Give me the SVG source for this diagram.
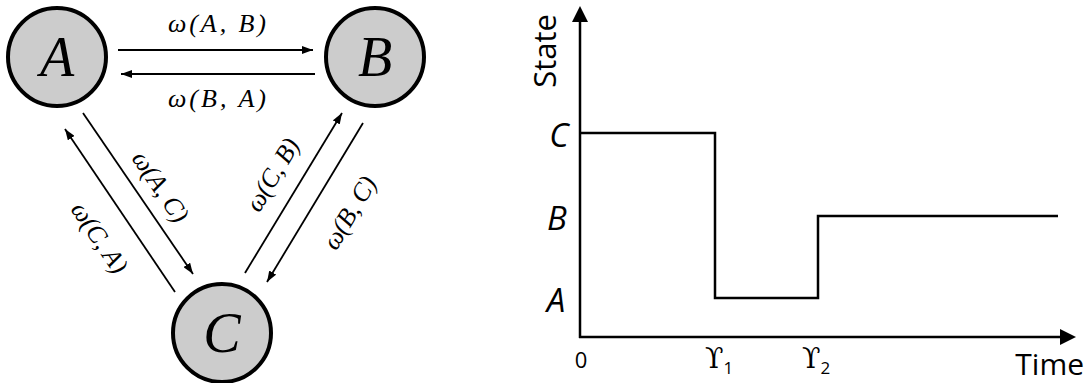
<svg xmlns="http://www.w3.org/2000/svg" width="1089" height="383" viewBox="0 0 1089 383">
<style>
.node{fill:#cccccc;stroke:#000;stroke-width:4}
.big{font-family:"Liberation Serif",serif;font-style:italic;font-size:56px;text-anchor:middle}
.lab{font-family:"Liberation Serif",serif;font-style:italic;font-size:26px;text-anchor:middle}
.edge{stroke:#000;stroke-width:1.8;fill:none;marker-end:url(#ah)}
.axis{stroke:#000;stroke-width:2.5;fill:none}
.trace{stroke:#000;stroke-width:2.5;fill:none}
.sans{font-family:"Open Sans","DejaVu Sans",sans-serif;fill:#000}
.lvl{font-family:"Open Sans","Liberation Sans",sans-serif;font-style:italic;font-size:33px;text-anchor:middle}
.tau{font-family:"DejaVu Serif",serif;font-size:27px}
.sub{font-family:"Open Sans",sans-serif;font-size:17px}
</style>
<defs>
<marker id="ah" markerWidth="11" markerHeight="8" refX="11" refY="4" orient="auto" markerUnits="userSpaceOnUse">
<path d="M0,0 L11,4 L0,8 Z" fill="#000"/>
</marker>
<marker id="axh" markerWidth="16" markerHeight="16" refX="0" refY="8" orient="auto" markerUnits="userSpaceOnUse">
<path d="M0,0 L16,8 L0,16 Z" fill="#000"/>
</marker>
</defs>
<g id="node-A"><circle class="node" cx="57" cy="57" r="49"/><text class="big" x="57" y="76">A</text></g>
<g id="node-B"><circle class="node" cx="375" cy="57" r="49"/><text class="big" x="375" y="76">B</text></g>
<g id="node-C"><circle class="node" cx="222" cy="333" r="49"/><text class="big" x="222" y="352">C</text></g>
<g id="connectors">
<line class="edge" x1="118" y1="50" x2="313" y2="50"/>
<line class="edge" x1="315" y1="74" x2="121" y2="74"/>
<line class="edge" x1="83" y1="113" x2="193" y2="274"/>
<line class="edge" x1="175" y1="292" x2="65" y2="129"/>
<line class="edge" x1="245" y1="273" x2="342" y2="113"/>
<line class="edge" x1="363" y1="123" x2="267" y2="282"/>
</g>
<g id="labels">
<text class="lab" x="217" y="32" textLength="98" lengthAdjust="spacing">ω(A, B)</text>
<text class="lab" x="217" y="107" textLength="98" lengthAdjust="spacing">ω(B, A)</text>
<text class="lab" transform="translate(160,187) rotate(56)" x="0" y="8" textLength="80" lengthAdjust="spacing">ω(A, C)</text>
<text class="lab" transform="translate(99,238) rotate(56)" x="0" y="8" textLength="80" lengthAdjust="spacing">ω(C, A)</text>
<text class="lab" transform="translate(273,175) rotate(-59)" x="0" y="8" textLength="80" lengthAdjust="spacing">ω(C, B)</text>
<text class="lab" transform="translate(350,213) rotate(-59)" x="0" y="8" textLength="80" lengthAdjust="spacing">ω(B, C)</text>
</g>
<g id="chart">
<line class="axis" x1="580" y1="338" x2="580" y2="22" marker-end="url(#axh)"/>
<line class="axis" x1="579" y1="337" x2="1060" y2="337" marker-end="url(#axh)"/>
<polyline class="trace" points="580,133 715,133 715,298 818,298 818,216 1058,216"/>
<text class="sans" transform="translate(556,51) rotate(-90)" text-anchor="middle" font-size="31">State</text>
<text class="lvl" x="559" y="147">C</text>
<text class="lvl" x="557" y="230">B</text>
<text class="lvl" x="556" y="312">A</text>
<text class="sans" x="581" y="368" text-anchor="middle" font-size="22">0</text>
<text class="tau" x="705" y="368">ϒ<tspan class="sub" dy="6">1</tspan></text>
<text class="tau" x="802" y="368">ϒ<tspan class="sub" dy="6">2</tspan></text>
<text class="sans" x="1084" y="375" text-anchor="end" font-size="30">Time</text>
</g>
</svg>
